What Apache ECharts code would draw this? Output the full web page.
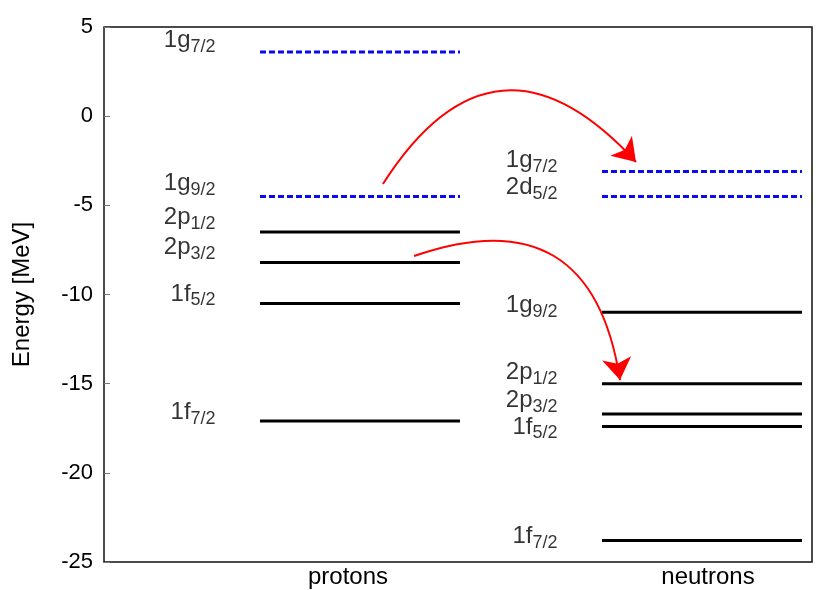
<!DOCTYPE html>
<html>
<head>
<meta charset="utf-8">
<script src="https://cdn.jsdelivr.net/npm/echarts@6/dist/echarts.min.js"></script>
<style>
  html, body { margin: 0; padding: 0; background: #fff; }
  #main { width: 836px; height: 590px; }
</style>
</head>
<body>
<div id="main"></div>
<script>
// x axis tick labels and where they sit
var sideNames = ['protons', 'neutrons'];
var sidePos = [1, 3];

// proton levels (dashed = empty orbit)
var protonOrbit = ['1g', '1g', '2p', '2p', '1f', '1f'];
var protonJ = ['7/2', '9/2', '1/2', '3/2', '5/2', '7/2'];
var protonEnergy = [3.6, -4.5, -6.5, -8.2, -10.5, -17.1];
var protonDashed = [1, 1, 0, 0, 0, 0];
var protonLabelE = [4.24, -3.77, -5.66, -7.34, -9.97, -16.6];

// neutron levels
var neutronOrbit = ['1g', '2d', '1g', '2p', '2p', '1f', '1f'];
var neutronJ = ['7/2', '5/2', '9/2', '1/2', '3/2', '5/2', '7/2'];
var neutronEnergy = [-3.1, -4.5, -11.0, -15.0, -16.7, -17.4, -23.8];
var neutronDashed = [1, 1, 0, 0, 0, 0, 0];
var neutronLabelE = [-2.49, -4.0, -10.62, -14.35, -15.95, -17.43, -23.55];

// arrows: [start, end] in axis units
var arrowFrom = [[1.194, -3.8], [1.367, -7.84]];
var arrowTo = [[2.6, -2.57], [2.511, -14.8]];
var arrowBend = [0.65, 0.6];

var protonSpan = [0.511, 1.622];
var neutronSpan = [2.411, 3.522];
var labelX = [0.267, 2.167];

var levelData = [];
var labelData = [];
protonEnergy.forEach(function (e, i) {
    levelData.push([protonSpan[0], protonSpan[1], e, protonDashed[i]]);
    labelData.push({ value: [labelX[0], protonLabelE[i]], orb: protonOrbit[i], j: protonJ[i] });
});
neutronEnergy.forEach(function (e, i) {
    levelData.push([neutronSpan[0], neutronSpan[1], e, neutronDashed[i]]);
    labelData.push({ value: [labelX[1], neutronLabelE[i]], orb: neutronOrbit[i], j: neutronJ[i] });
});

var arrowData = arrowFrom.map(function (a, i) {
    return { coords: [a, arrowTo[i]], lineStyle: { curveness: arrowBend[i] } };
});

var font = 'Liberation Sans, Arial, Helvetica, sans-serif';
var myChart = echarts.init(document.getElementById('main'));

var option = {
    animation: false,
    grid: {
        left: 104, right: 24, top: 27, bottom: 28,
        outerBoundsMode: 'none',
        containLabel: false,
        show: true, borderColor: '#111', borderWidth: 1.5
    },
    xAxis: {
        type: 'value',
        min: -0.3556,
        max: 3.5778,
        axisLine: { show: false, onZero: false },
        axisTick: { show: false },
        splitLine: { show: false },
        axisLabel: {
            customValues: sidePos,
            margin: 3,
            fontSize: 24,
            fontFamily: font,
            color: '#000',
            formatter: function (v) {
                var k = sidePos.indexOf(v);
                return k >= 0 ? sideNames[k] : '';
            }
        }
    },
    yAxis: {
        type: 'value',
        min: -25,
        max: 5,
        interval: 5,
        name: 'Energy [MeV]',
        nameLocation: 'middle',
        nameGap: 70,
        nameTextStyle: { fontSize: 24, fontFamily: font, color: '#000' },
        axisLine: { show: false, onZero: false },
        axisTick: { show: true, inside: true, length: 6, lineStyle: { color: '#777' } },
        splitLine: { show: false },
        axisLabel: { fontSize: 22, fontFamily: font, color: '#000', margin: 11 }
    },
    series: [
        {
            type: 'custom',
            data: levelData,
            encode: { x: [0, 1], y: 2 },
            renderItem: function (params, api) {
                var p0 = api.coord([api.value(0), api.value(2)]);
                var p1 = api.coord([api.value(1), api.value(2)]);
                var dashed = api.value(3) === 1;
                return {
                    type: 'line',
                    shape: { x1: p0[0], y1: p0[1], x2: p1[0], y2: p1[1] },
                    style: {
                        stroke: dashed ? '#0a0aee' : '#000',
                        lineWidth: 3,
                        lineDash: dashed ? [6, 3] : null
                    }
                };
            }
        },
        {
            type: 'scatter',
            data: labelData,
            symbolSize: 1,
            itemStyle: { color: 'rgba(0,0,0,0)' },
            label: {
                show: true,
                position: 'left',
                distance: 0,
                color: '#000',
                textBorderWidth: 0,
                formatter: function (p) {
                    return '{m|' + p.data.orb + '}{s|' + p.data.j + '}';
                },
                rich: {
                    m: { fontSize: 24, fontFamily: font, color: '#000' },
                    s: { fontSize: 18, fontFamily: font, color: '#000', padding: [13, 0, 0, 0] }
                }
            }
        },
        {
            type: 'lines',
            coordinateSystem: 'cartesian2d',
            data: arrowData,
            symbol: ['none', 'arrow'],
            symbolSize: [15, 22],
            lineStyle: { color: '#ff0000', width: 2, opacity: 1 },
            itemStyle: { color: '#ff0000' }
        }
    ]
};
myChart.setOption(option);
</script>
</body>
</html>
